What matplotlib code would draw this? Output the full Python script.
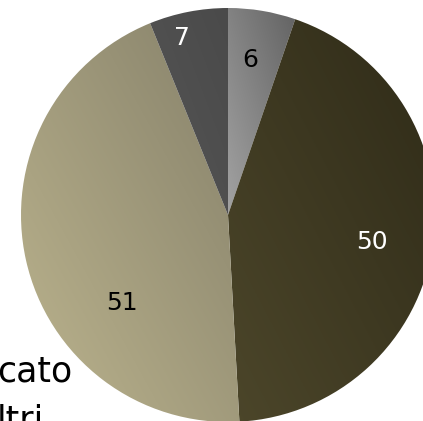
import numpy as np
import matplotlib
matplotlib.use('Agg')
import matplotlib.pyplot as plt
from matplotlib.colors import LinearSegmentedColormap

# data
values = [6, 50, 51, 7]
labels = ['6', '50', '51', '7']
label_colors = ['black', 'white', 'black', 'white']
# gradient per slice: (light bottom-left, dark top-right)
grad_colors = [('#a2a2a2', '#636363'),
               ('#4c462a', '#2f2b18'),
               ('#bcb48e', '#86816a'),
               ('#555555', '#4a4a4a')]
legend_bits = ['cato', 'ltri']

W, H = 423, 421
fig = plt.figure(figsize=(W / 100, H / 100), dpi=100)
ax = fig.add_axes([0, 0, 1, 1])

cx, cy, r = 228, H - 215, 207

# legend remnants sit behind the pie (cut off at the left edge like the original)
ax.text(72, H - 371, legend_bits[0], fontsize=25, ha='right', va='center',
        color='black', zorder=0)
ax.text(-3, H - 421, legend_bits[1], fontsize=25, ha='left', va='center',
        color='black', zorder=0)

wedges, texts = ax.pie(values, startangle=90, counterclock=False,
                       center=(cx, cy), radius=r, labels=labels,
                       labeldistance=0.75,
                       wedgeprops=dict(linewidth=0, edgecolor='none'),
                       textprops=dict(fontsize=18))

for w, t, c, (c1, c2) in zip(wedges, texts, label_colors, grad_colors):
    t.set_color(c)
    t.set_ha('center')
    t.set_va('center')
    w.set_facecolor('none')
    bb = w.get_path().get_extents(w.get_patch_transform())
    x0, y0, x1, y1 = bb.x0, bb.y0, bb.x1, bb.y1
    u, v = np.meshgrid(np.linspace(0, 1, 100), np.linspace(0, 1, 100))
    g = (u + v) / 2
    cmap = LinearSegmentedColormap.from_list('g', [c1, c2])
    im = ax.imshow(g, cmap=cmap, extent=(x0, x1, y0, y1), origin='lower',
                   vmin=0, vmax=1, aspect='auto', zorder=1, interpolation='bilinear')
    im.set_clip_path(w)

# label positions
label_pos = [(250, 60), (372, 242), (122, 303), (182, 38)]
for t, (px, py) in zip(texts, label_pos):
    t.set_position((px, H - py))
    t.set_zorder(3)

ax.set_xlim(0, W)
ax.set_ylim(0, H)
ax.set_aspect('auto')
ax.axis('off')
fig.savefig('out.png', dpi=100)
